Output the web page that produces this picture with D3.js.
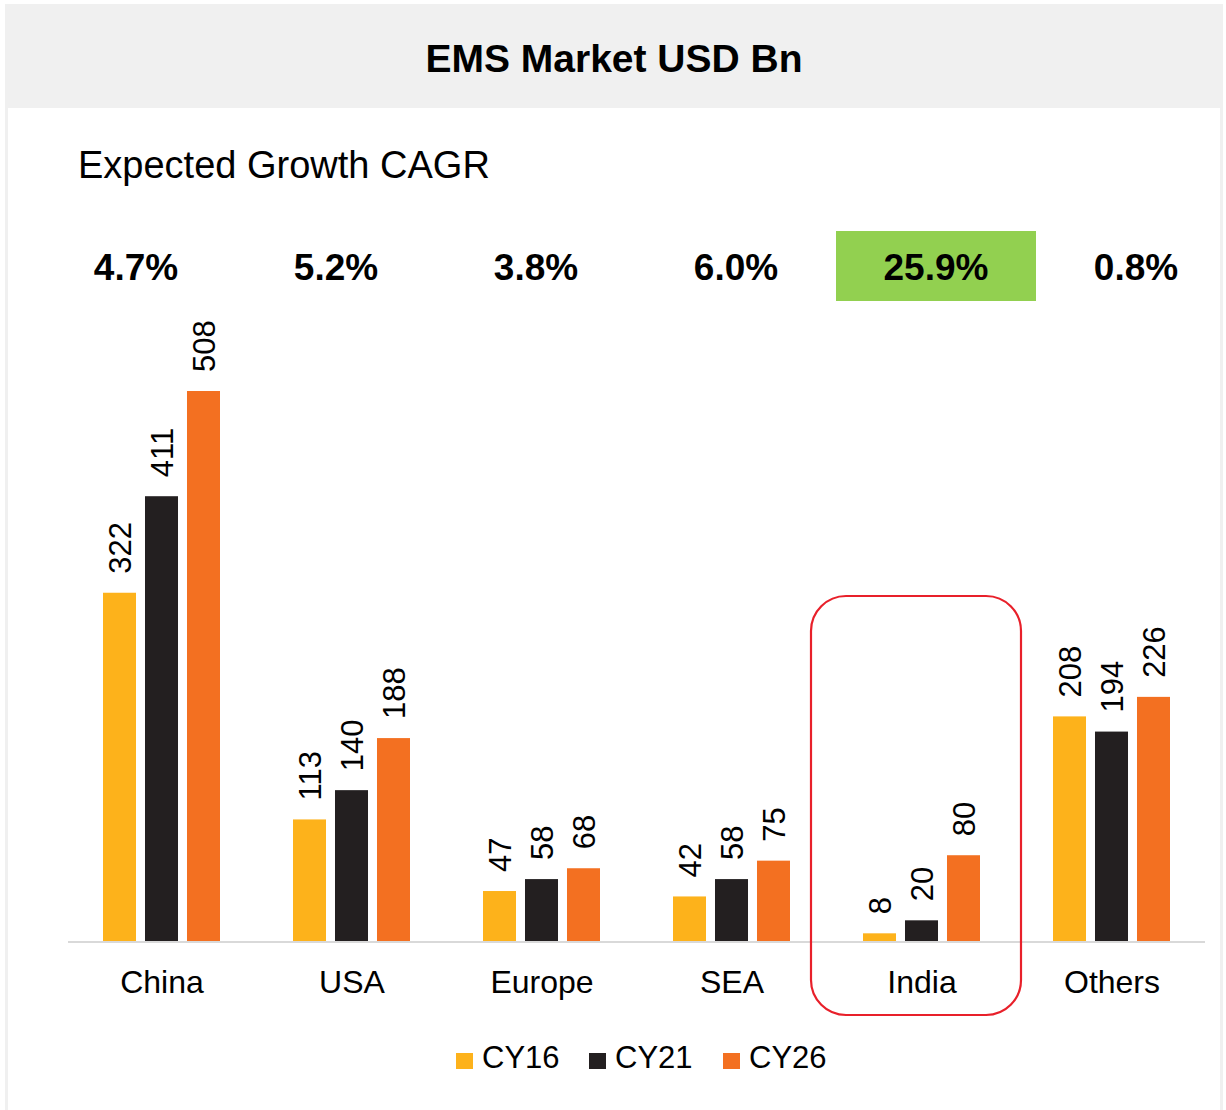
<!DOCTYPE html>
<html>
<head>
<meta charset="utf-8">
<script src="https://cdn.jsdelivr.net/npm/d3@7"></script>
<style>
  html, body { margin: 0; padding: 0; background: #fff; }
  svg text { font-family: "Liberation Sans", Arial, Helvetica, sans-serif; }
</style>
</head>
<body>
<script>
const categories = ["China", "USA", "Europe", "SEA", "India", "Others"];
const series = ["CY16", "CY21", "CY26"];
const cy16 = [322, 113, 47, 42, 8, 208];
const cy21 = [411, 140, 58, 58, 20, 194];
const cy26 = [508, 188, 68, 75, 80, 226];
const cagr = ["4.7%", "5.2%", "3.8%", "6.0%", "25.9%", "0.8%"];
const highlight = "India";

const colors = { CY16: "#fdb21b", CY21: "#231f20", CY26: "#f37021" };

const w = 1226;
const h = 1110;
const baseY = 942;

const svg = d3.select("body")
	.append("svg")
	.attr("width", w)
	.attr("height", h);

// frame: light gray border + header band
svg.append("rect").attr("x", 5).attr("y", 4).attr("width", 1218).attr("height", h - 4).attr("fill", "#f0f0f0");
svg.append("rect").attr("x", 8).attr("y", 108).attr("width", 1212).attr("height", h - 108).attr("fill", "#fff");

svg.append("text")
	.attr("x", 614).attr("y", 72)
	.attr("text-anchor", "middle")
	.attr("font-size", 39).attr("font-weight", "bold")
	.text("EMS Market USD Bn");

svg.append("text")
	.attr("x", 78).attr("y", 178)
	.attr("font-size", 38)
	.text("Expected Growth CAGR");

// data table
const rows = categories.map((c, i) => ({ cat: c, CY16: cy16[i], CY21: cy21[i], CY26: cy26[i], cagr: cagr[i] }));

const x0 = d3.scaleBand().domain(categories).range([66, 1206]);
const x1 = d3.scaleBand().domain(series).range([37, 154]).paddingInner(0.214);
const y = d3.scaleLinear().domain([0, 508]).range([baseY, 391]);
const xc = d3.scaleBand().domain(categories).range([36, 1236]);

// CAGR row
svg.append("rect")
	.attr("x", xc(highlight)).attr("y", 231)
	.attr("width", xc.bandwidth()).attr("height", 70)
	.attr("fill", "#92d050");

svg.selectAll(".cagr").data(rows).enter().append("text")
	.attr("class", "cagr")
	.attr("x", d => xc(d.cat) + xc.bandwidth() / 2)
	.attr("y", 280)
	.attr("text-anchor", "middle")
	.attr("font-size", 37).attr("font-weight", "bold")
	.text(d => d.cagr);

// bars
const groups = svg.selectAll(".grp").data(rows).enter().append("g")
	.attr("class", "grp")
	.attr("transform", d => "translate(" + x0(d.cat) + ",0)");

const cells = groups.selectAll(".bar").data(d => series.map(s => ({ s: s, v: d[s] }))).enter();

cells.append("rect")
	.attr("class", "bar")
	.attr("x", d => x1(d.s))
	.attr("y", d => y(d.v))
	.attr("width", x1.bandwidth())
	.attr("height", d => baseY - y(d.v))
	.attr("fill", d => colors[d.s]);

cells.append("text")
	.attr("transform", d => "translate(" + (x1(d.s) + x1.bandwidth() / 2) + "," + (y(d.v) - 19) + ") rotate(-90)")
	.attr("dy", "0.36em")
	.attr("font-size", 31)
	.text(d => d.v);

// axis line
svg.append("line")
	.attr("x1", 68).attr("x2", 1205)
	.attr("y1", baseY).attr("y2", baseY)
	.attr("stroke", "#d9d9d9").attr("stroke-width", 2);

svg.selectAll(".cat").data(categories).enter().append("text")
	.attr("class", "cat")
	.attr("x", d => x0(d) + x0.bandwidth() / 2 + 1)
	.attr("y", 993)
	.attr("text-anchor", "middle")
	.attr("font-size", 32)
	.text(d => d);

// highlight box
svg.append("rect")
	.attr("x", x0(highlight) - 15).attr("y", 596)
	.attr("width", x0.bandwidth() + 20).attr("height", 419)
	.attr("rx", 35).attr("ry", 35)
	.attr("fill", "none").attr("stroke", "#e8202a").attr("stroke-width", 2.2);

// legend
const legendX = [456, 589, 723];
const legend = svg.selectAll(".leg").data(series).enter().append("g")
	.attr("class", "leg")
	.attr("transform", (d, i) => "translate(" + legendX[i] + ",1053)");
legend.append("rect").attr("width", 17).attr("height", 16).attr("fill", d => colors[d]);
legend.append("text").attr("x", 26).attr("y", 15).attr("font-size", 31).text(d => d);
</script>
</body>
</html>
